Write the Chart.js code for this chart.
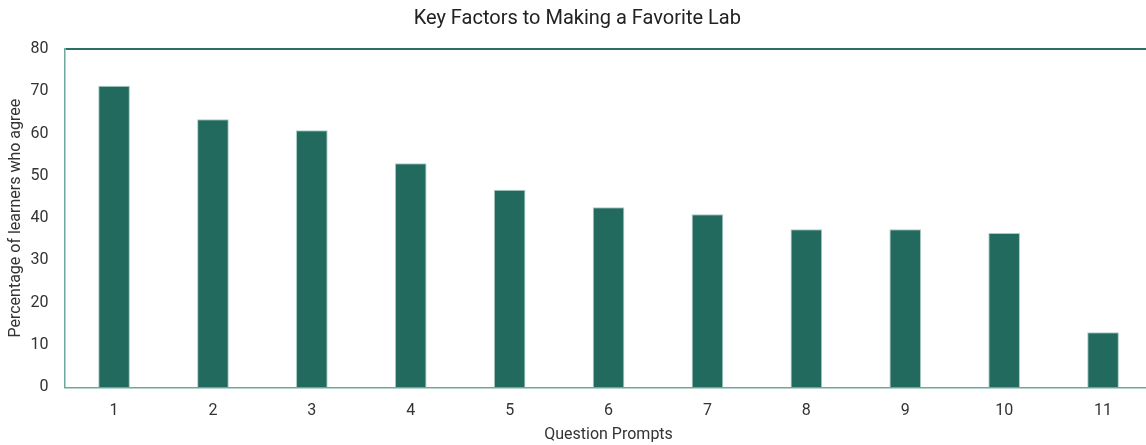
<!DOCTYPE html>
<html>
<head>
<meta charset="utf-8">
<script src="https://cdn.jsdelivr.net/npm/chart.js@4"></script>
<style>
  html, body { margin: 0; padding: 0; background: #fff; overflow: hidden; }
  #wrap { width: 1156px; height: 445px; }
</style>
</head>
<body>
<div id="wrap"><canvas id="labChart" width="1156" height="445"></canvas></div>
<script>
const prompts = ['1', '2', '3', '4', '5', '6', '7', '8', '9', '10', '11'];
const agreePct = [71.3, 63.4, 60.8, 53.0, 46.7, 42.6, 40.9, 37.4, 37.4, 36.5, 13.0];
const yTicks = [0, 10, 20, 30, 40, 50, 60, 70, 80];

const BAR_COLOR = '#236a5e';
const FONT = 'Roboto, "Noto Sans", sans-serif';
const TEXT = '#333333';

new Chart(document.getElementById('labChart'), {
    type: 'bar',
    data: {
        labels: prompts,
        datasets: [{
            label: 'Percentage of learners who agree',
            data: agreePct,
            backgroundColor: BAR_COLOR,
            borderColor: '#a9cbc4',
            borderWidth: 1,
            barPercentage: 0.32,
            categoryPercentage: 1
        }]
    },
    options: {
        responsive: false,
        animation: false,
        layout: { padding: { left: 2, right: 3.5, top: 0, bottom: 0 } },
        plugins: {
            legend: { display: false },
            tooltip: { enabled: false },
            title: {
                display: true,
                text: 'Key Factors to Making a Favorite Lab',
                color: '#222',
                font: { family: FONT, size: 20, weight: 'normal' },
                padding: { top: 7, bottom: 18 }
            }
        },
        scales: {
            x: {
                afterFit: axis => { axis.height = 57.7; },
                grid: { display: false, drawTicks: false },
                border: { display: true, color: '#6fa79c', width: 1.5 },
                ticks: { color: TEXT, font: { family: FONT, size: 16 }, padding: 14 },
                title: {
                    display: true,
                    text: 'Question Prompts',
                    color: TEXT,
                    font: { family: FONT, size: 16 },
                    padding: { top: 5, bottom: 0 }
                }
            },
            y: {
                min: 0,
                max: 80,
                afterBuildTicks: axis => { axis.ticks = yTicks.map(v => ({ value: v })); },
                afterFit: axis => { axis.width = 62.6; },
                grid: {
                    drawTicks: false,
                    color: c => (c.tick && c.tick.value === 80 ? '#2e6f63' : 'rgba(0,0,0,0)'),
                    lineWidth: c => (c.tick && c.tick.value === 80 ? 2 : 0)
                },
                border: { display: true, color: '#6fa79c', width: 1.5 },
                ticks: { color: TEXT, font: { family: FONT, size: 16 }, padding: 16 },
                title: {
                    display: true,
                    text: 'Percentage of learners who agree',
                    color: TEXT,
                    font: { family: FONT, size: 16 },
                    padding: { top: 4, bottom: 4 }
                }
            }
        }
    }
});
</script>
</body>
</html>
